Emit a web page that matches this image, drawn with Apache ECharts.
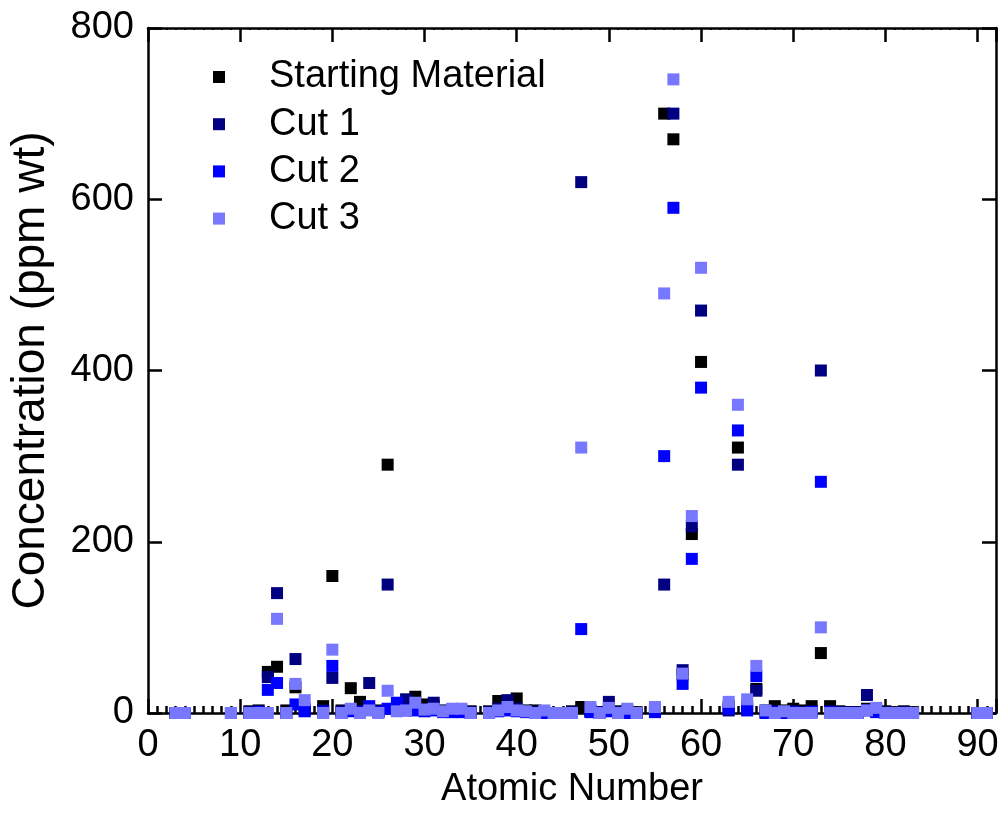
<!DOCTYPE html>
<html>
<head>
<meta charset="utf-8">
<script src="https://cdn.jsdelivr.net/npm/echarts@6/dist/echarts.min.js"></script>
<style>
html,body{margin:0;padding:0;background:#fff;}
#chart{width:1005px;height:830px;}
</style>
</head>
<body>
<div id="chart"></div>
<script>
// Atomic numbers measured
const atomicNumbers = [3,4,9,11,12,13,14,15,16,17,19,20,21,22,23,24,25,26,27,28,29,30,31,32,33,34,35,37,38,39,40,41,42,43,44,45,46,47,48,49,50,51,52,53,55,56,57,58,59,60,63,64,65,66,67,68,69,70,71,72,73,74,75,76,77,78,79,80,81,82,83,90,91];
// Concentrations (ppm wt), aligned with atomicNumbers
const startingMaterial = [0,0,0,2,3,48,54,3,30,5,8,160,3,29,13,4,3,290,5,8,19,10,8,3,3,3,2,2,14,8,17,3,3,0,0,0,2,7,3,1,5,2,3,1,4,700,670,45,209,410,8,310,8,28,3,8,3,5,3,8,70,8,2,1,1,5,4,2,1,2,1,0,0];
const cut1 = [0,0,0,1,2,42,140,0,63,3,3,41,2,3,2,35,2,150,3,16,5,4,12,2,2,2,1,1,5,15,5,2,1,0,0,0,1,620,2,1,13,1,1,0,2,150,700,50,218,470,3,290,5,26,1,2,1,2,1,2,400,2,1,1,1,21,2,1,0,1,0,0,0];
const cut2 = [0,0,0,0,1,27,35,0,10,2,1,55,0,2,1,8,1,5,12,3,3,2,3,1,1,1,0,0,2,3,2,1,0,0,0,0,0,98,1,0,2,0,0,0,1,300,590,34,180,380,5,330,3,43,0,1,0,1,0,1,270,1,0,0,0,3,1,0,0,0,0,0,0];
const cut3 = [0,0,0,0,0,0,110,0,34,15,0,74,0,5,0,3,0,26,2,3,12,4,5,2,5,5,0,0,3,7,3,2,0,3,0,0,0,310,7,0,6,0,5,0,7,490,740,46,230,520,13,360,16,55,3,0,2,0,0,0,100,0,0,0,0,3,6,0,0,0,0,0,0];
const seriesNames = ['Starting Material','Cut 1','Cut 2','Cut 3'];
const seriesColors = ['#000000','#000080','#0000ff','#7777ff'];
const xTicks = [0,10,20,30,40,50,60,70,80,90];
const yTicks = [0,200,400,600,800];

const FONT = 'Liberation Sans, Arial, sans-serif';
const allValues = [startingMaterial, cut1, cut2, cut3];
const series = allValues.map((vals, i) => ({
  name: seriesNames[i],
  type: 'scatter',
  symbol: 'rect',
  symbolSize: 12,
  itemStyle: { color: seriesColors[i], opacity: 1 },
  data: atomicNumbers.map((z, k) => [z, vals[k]]),
  xAxisIndex: 0,
  yAxisIndex: 0,
  z: 2 + i
}));

const chart = echarts.init(document.getElementById('chart'), null, { renderer: 'canvas' });
const lineStyle = { color: '#000', width: 2.5 };
chart.setOption({
  animation: false,
  backgroundColor: '#fff',
  grid: { left: 147, right: 9, top: 28, bottom: 117, containLabel: false },
  legend: {
    orient: 'vertical',
    left: 208,
    top: 53,
    itemWidth: 12,
    itemHeight: 12,
    itemGap: 9.2,
    icon: 'rect',
    data: seriesNames,
    textStyle: { fontFamily: FONT, fontSize: 38, color: '#000', padding: [0, 0, 0, 39] }
  },
  xAxis: [
    {
      type: 'value', position: 'bottom', min: 0, max: 92, interval: 10,
      name: 'Atomic Number', nameLocation: 'middle', nameGap: 58,
      nameTextStyle: { fontFamily: FONT, fontSize: 38, color: '#000' },
      axisLine: { show: true, onZero: false, lineStyle: lineStyle },
      axisTick: { show: true, inside: true, length: 14, lineStyle: { color: '#000', width: 2.5 } },
      minorTick: { show: true, splitNumber: 10, length: 7, lineStyle: { color: '#000', width: 2.5 } },
      axisLabel: { fontFamily: FONT, fontSize: 38, color: '#000', margin: 14,
        formatter: v => (xTicks.indexOf(v) >= 0 ? String(v) : '') },
      splitLine: { show: false }
    },
    {
      type: 'value', position: 'top', min: 0, max: 92, interval: 10,
      axisLine: { show: true, onZero: false, lineStyle: lineStyle },
      axisTick: { show: true, inside: true, length: 14, lineStyle: { color: '#000', width: 2.5 } },
      minorTick: { show: true, splitNumber: 10, length: 2, lineStyle: { color: '#000', width: 2 } },
      axisLabel: { show: false },
      splitLine: { show: false }
    }
  ],
  yAxis: [
    {
      type: 'value', position: 'left', min: 0, max: 800, interval: 200,
      name: 'Concentration (ppm wt)', nameLocation: 'middle', nameGap: 94,
      nameTextStyle: { fontFamily: FONT, fontSize: 46, color: '#000' },
      axisLine: { show: true, onZero: false, lineStyle: lineStyle },
      axisTick: { show: true, inside: true, length: 14, lineStyle: { color: '#000', width: 2.5 } },
      axisLabel: { fontFamily: FONT, fontSize: 38, color: '#000', margin: 14,
        formatter: v => (yTicks.indexOf(v) >= 0 ? String(v) : '') },
      splitLine: { show: false }
    },
    {
      type: 'value', position: 'right', min: 0, max: 800, interval: 200,
      axisLine: { show: true, onZero: false, lineStyle: lineStyle },
      axisTick: { show: true, inside: true, length: 14, lineStyle: { color: '#000', width: 2.5 } },
      axisLabel: { show: false },
      splitLine: { show: false }
    }
  ],
  series: series
});
</script>
</body>
</html>
